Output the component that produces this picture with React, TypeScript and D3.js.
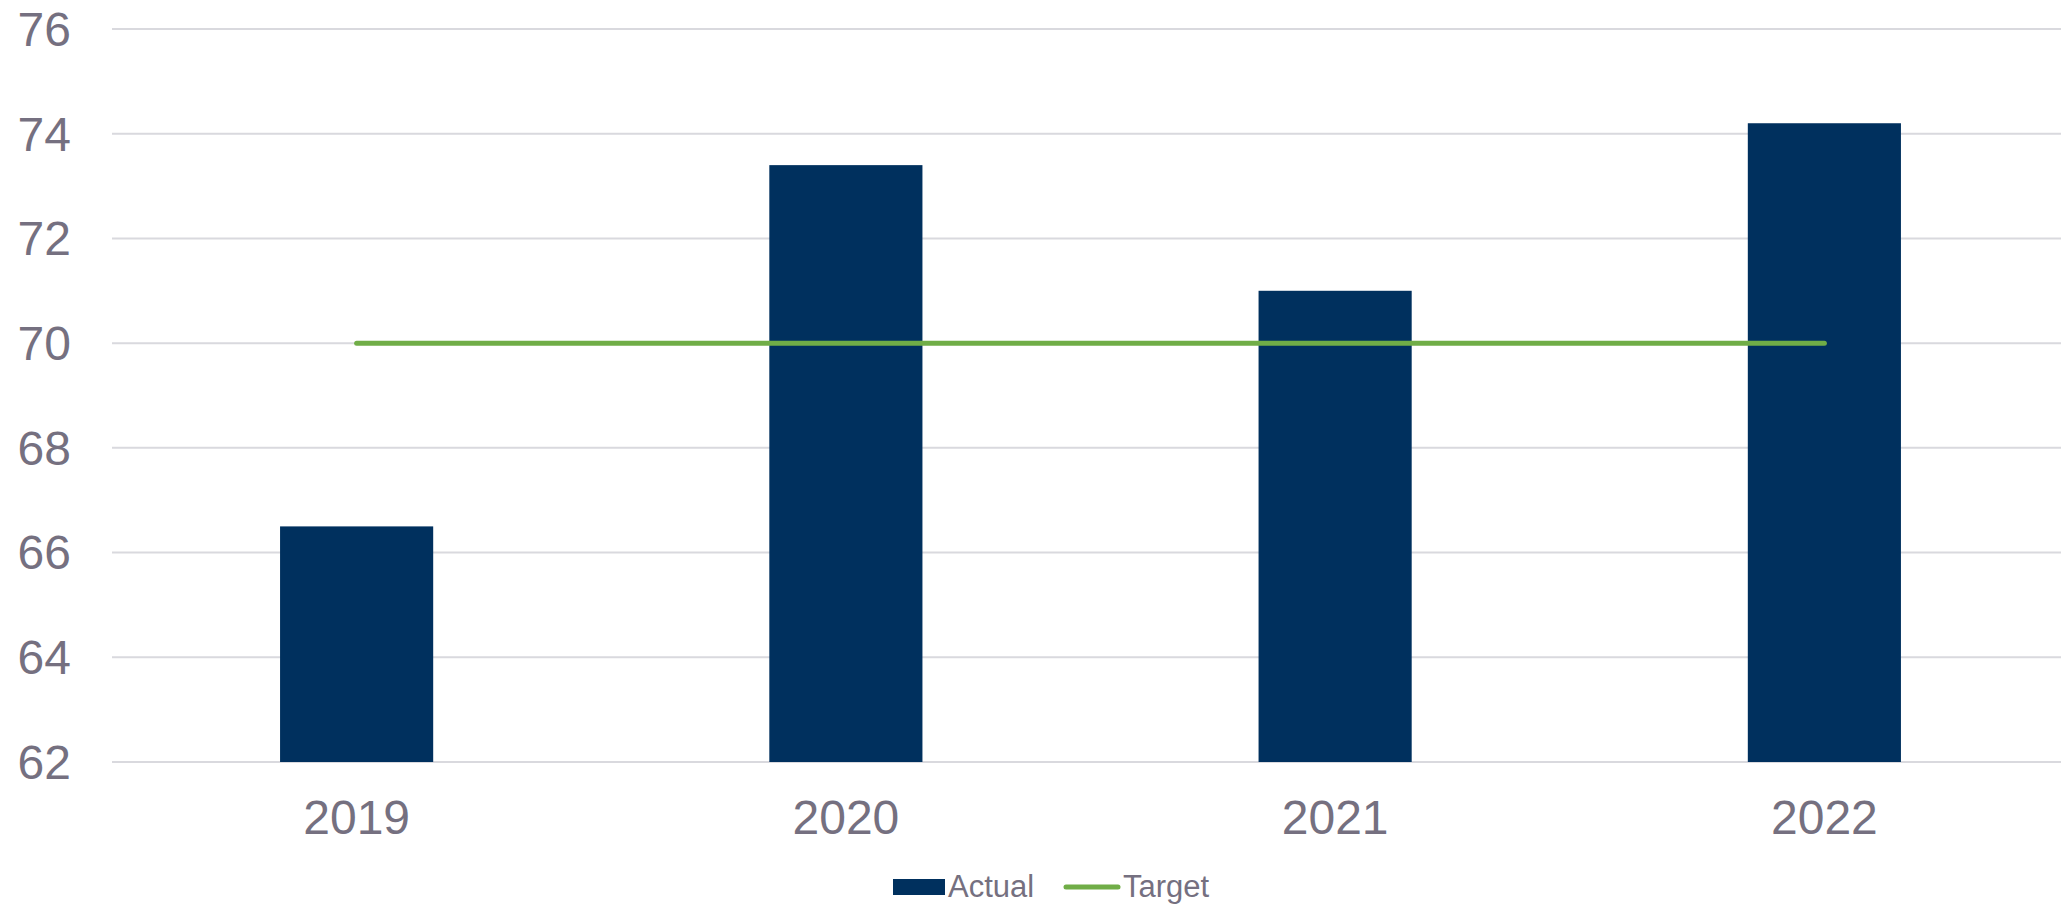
import React, { useEffect, useRef } from 'react';
import * as d3 from 'd3';

const years = ['2019', '2020', '2021', '2022'];
const actual = [66.5, 73.4, 71.0, 74.2];
const target = [70, 70, 70, 70];
const yTicks = [62, 64, 66, 68, 70, 72, 74, 76];

const W = 2061;
const H = 904;
const FONT = '"Liberation Sans", Arial, sans-serif';
const TEXT = '#757080';

const App = () => {
  const ref = useRef<SVGSVGElement>(null);

  useEffect(() => {
    document.body.style.margin = '0';
    draw();
  }, []);

  const draw = () => {
    const svg = d3.select(ref.current);
    svg.selectAll('*').remove();

    const left = 112, right = 2069, top = 29, bottom = 762;

    const x = d3.scaleBand().domain(years).range([left, right]).paddingInner(0.687).paddingOuter(0.3435);
    const xc = d3.scalePoint().domain(years).range([left, right]).padding(0.5);
    const y = d3.scaleLinear().domain([62, 76]).range([bottom, top]);

    // gridlines
    svg.append('g')
      .selectAll('line')
      .data(yTicks)
      .join('line')
      .attr('x1', left)
      .attr('x2', right)
      .attr('y1', d => y(d))
      .attr('y2', d => y(d))
      .attr('stroke', '#D9D9DE')
      .attr('stroke-width', 2);

    // y labels
    svg.append('g')
      .selectAll('text')
      .data(yTicks)
      .join('text')
      .attr('x', 71)
      .attr('y', d => y(d))
      .attr('dy', '0.35em')
      .attr('text-anchor', 'end')
      .attr('font-family', FONT)
      .attr('font-size', 48)
      .attr('fill', TEXT)
      .text(d => d);

    // bars
    svg.append('g')
      .selectAll('rect')
      .data(actual)
      .join('rect')
      .attr('x', (d, i) => x(years[i]) as number)
      .attr('width', x.bandwidth())
      .attr('y', d => y(d))
      .attr('height', d => y(62) - y(d))
      .attr('fill', '#00305E');

    // target line
    const line = d3.line<number>()
      .x((d, i) => xc(years[i]) as number)
      .y(d => y(d));
    svg.append('path')
      .datum(target)
      .attr('d', line)
      .attr('fill', 'none')
      .attr('stroke', '#70AD47')
      .attr('stroke-width', 5)
      .attr('stroke-linecap', 'round');

    // x labels
    svg.append('g')
      .selectAll('text')
      .data(years)
      .join('text')
      .attr('x', d => xc(d) as number)
      .attr('y', 834)
      .attr('text-anchor', 'middle')
      .attr('font-family', FONT)
      .attr('font-size', 48)
      .attr('fill', TEXT)
      .text(d => d);

    // legend
    const lg = svg.append('g');
    lg.append('rect')
      .attr('x', 893).attr('y', 879).attr('width', 52).attr('height', 16)
      .attr('fill', '#00305E');
    lg.append('text')
      .attr('x', 948).attr('y', 897)
      .attr('font-family', FONT).attr('font-size', 31).attr('fill', TEXT)
      .text('Actual');
    lg.append('line')
      .attr('x1', 1066).attr('x2', 1118).attr('y1', 887).attr('y2', 887)
      .attr('stroke', '#70AD47').attr('stroke-width', 5).attr('stroke-linecap', 'round');
    lg.append('text')
      .attr('x', 1123).attr('y', 897)
      .attr('font-family', FONT).attr('font-size', 31).attr('fill', TEXT)
      .text('Target');
  };

  return <svg ref={ref} width={W} height={H} style={{ display: 'block', background: '#fff' }}></svg>;
};

export default App;
